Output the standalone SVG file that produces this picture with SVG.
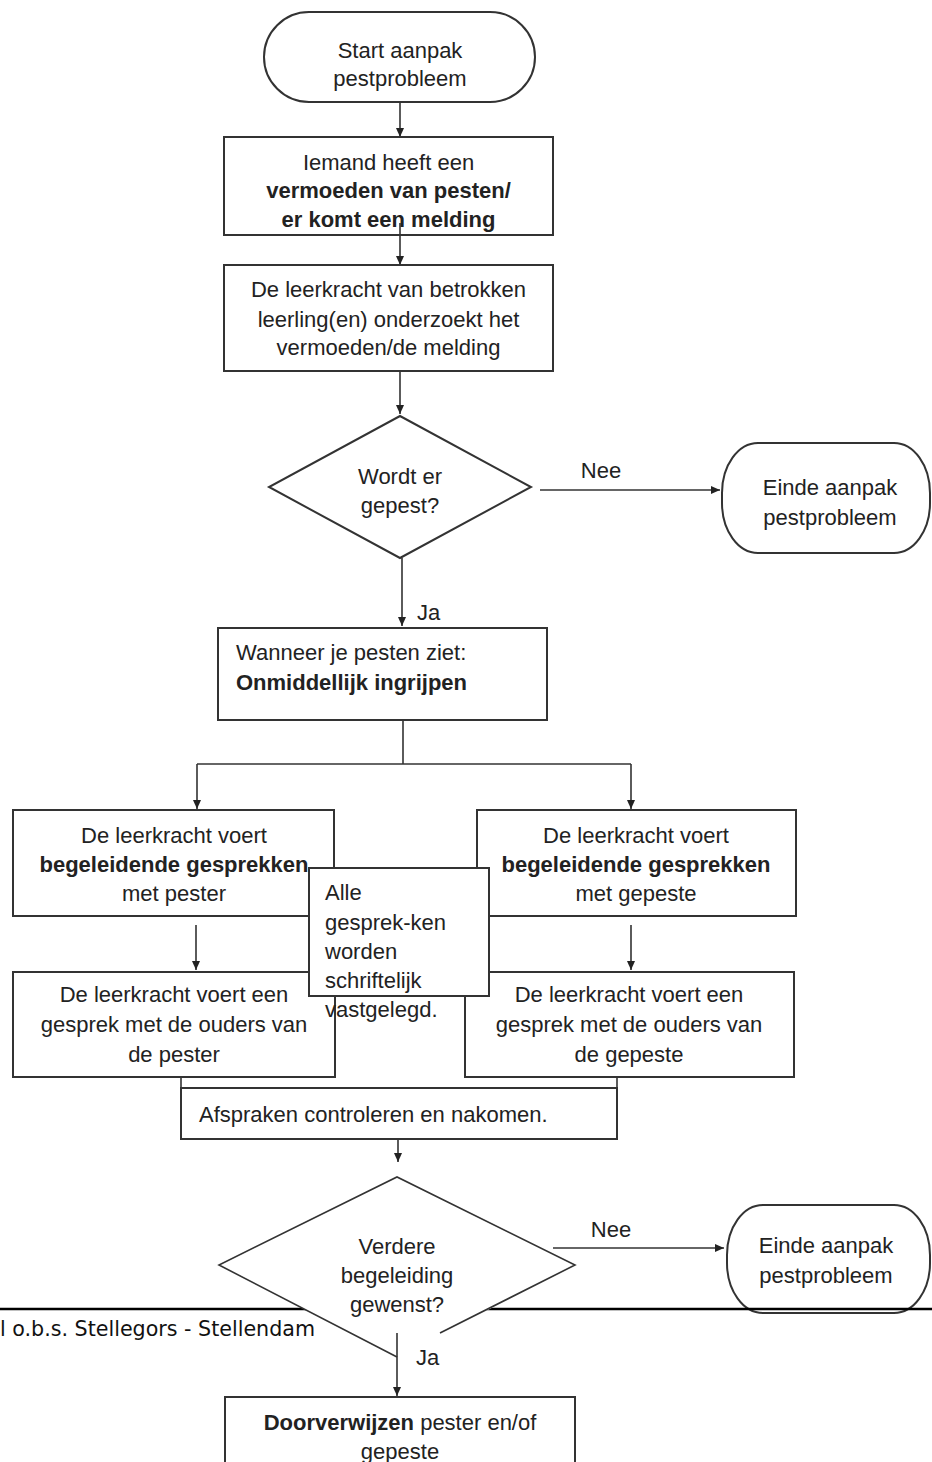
<svg xmlns="http://www.w3.org/2000/svg" width="932" height="1462" viewBox="0 0 932 1462">
<defs>
<marker id="ah" markerWidth="10" markerHeight="10" refX="9" refY="5" orient="auto" markerUnits="userSpaceOnUse">
<path d="M0,1 L9,5 L0,9 Z" fill="#222"/>
</marker>
<style>
.t{font-family:"Liberation Sans",Arial,sans-serif;font-size:22px;fill:#222}
.c{text-anchor:middle}
.b{font-weight:bold}
.box{fill:#fff;stroke:#333;stroke-width:2}
.ln{fill:none;stroke:#333;stroke-width:1.6}
.ar{fill:none;stroke:#333;stroke-width:1.6;marker-end:url(#ah)}
</style>
</defs>
<rect width="932" height="1462" fill="#fff"/>

<g id="start">
<rect class="box" x="264" y="12" width="271" height="90" rx="45" ry="45"/>
<text class="t c" x="400" y="58">Start aanpak</text>
<text class="t c" x="400" y="86">pestprobleem</text>
</g>

<g id="connectors">
<line class="ar" x1="400" y1="102" x2="400" y2="137"/>
<line class="ar" x1="400" y1="223" x2="400" y2="265"/>
<line class="ar" x1="400" y1="371" x2="400" y2="414"/>
<line class="ar" x1="540" y1="490" x2="720" y2="490"/>
<line class="ar" x1="402" y1="558" x2="402" y2="626"/>
<polyline class="ln" points="403,720 403,764"/>
<polyline class="ln" points="197,764 631,764"/>
<line class="ar" x1="197" y1="764" x2="197" y2="809"/>
<line class="ar" x1="631" y1="764" x2="631" y2="809"/>
<line class="ar" x1="196" y1="925" x2="196" y2="970"/>
<line class="ar" x1="631" y1="925" x2="631" y2="970"/>
<line class="ln" x1="181" y1="1077" x2="181" y2="1088" stroke-width="2"/>
<line class="ln" x1="617" y1="1077" x2="617" y2="1088" stroke-width="2"/>
<line class="ar" x1="398" y1="1139" x2="398" y2="1162"/>
<line class="ar" x1="553" y1="1248" x2="724" y2="1248"/>
<line class="ar" x1="397" y1="1333" x2="397" y2="1396"/>
</g>

<g id="box-melding">
<rect class="box" x="224" y="137" width="329" height="98" fill-opacity="0"/>
<text class="t c" x="388.5" y="170">Iemand heeft een</text>
<text class="t c b" x="388.5" y="198">vermoeden van pesten/</text>
<text class="t c b" x="388.5" y="227">er komt een melding</text>
</g>

<g id="box-onderzoek">
<rect class="box" x="224" y="265" width="329" height="106"/>
<text class="t c" x="388.5" y="297">De leerkracht van betrokken</text>
<text class="t c" x="388.5" y="327">leerling(en) onderzoekt het</text>
<text class="t c" x="388.5" y="355">vermoeden/de melding</text>
</g>

<g id="dec-gepest">
<polygon class="box" points="400,416 531,487 400,558 269,487"/>
<text class="t c" x="400" y="484">Wordt er</text>
<text class="t c" x="400" y="513">gepest?</text>
</g>
<text class="t c" x="601" y="478">Nee</text>

<g id="einde1">
<rect class="box" x="722" y="443" width="208" height="110" rx="36" ry="50"/>
<text class="t c" x="830" y="495">Einde aanpak</text>
<text class="t c" x="830" y="525">pestprobleem</text>
</g>
<text class="t" x="417" y="620">Ja</text>

<g id="box-ingrijpen">
<rect class="box" x="218" y="628" width="329" height="92"/>
<text class="t" x="236" y="660">Wanneer je pesten ziet:</text>
<text class="t b" x="236" y="690">Onmiddellijk ingrijpen</text>
</g>

<g id="box-pester">
<rect class="box" x="13" y="810" width="321" height="106"/>
<text class="t c" x="174" y="843">De leerkracht voert</text>
<text class="t c b" x="174" y="872">begeleidende gesprekken</text>
<text class="t c" x="174" y="901">met pester</text>
</g>

<g id="box-gepeste">
<rect class="box" x="477" y="810" width="319" height="106"/>
<text class="t c" x="636" y="843">De leerkracht voert</text>
<text class="t c b" x="636" y="872">begeleidende gesprekken</text>
<text class="t c" x="636" y="901">met gepeste</text>
</g>

<g id="box-ouders-pester">
<rect class="box" x="13" y="972" width="322" height="105"/>
<text class="t c" x="174" y="1002">De leerkracht voert een</text>
<text class="t c" x="174" y="1032">gesprek met de ouders van</text>
<text class="t c" x="174" y="1062">de pester</text>
</g>

<g id="box-ouders-gepeste">
<rect class="box" x="465" y="972" width="329" height="105"/>
<text class="t c" x="629" y="1002">De leerkracht voert een</text>
<text class="t c" x="629" y="1032">gesprek met de ouders van</text>
<text class="t c" x="629" y="1062">de gepeste</text>
</g>

<g id="box-alle">
<rect class="box" x="309" y="868" width="180" height="128"/>
<text class="t" x="325" y="900">Alle</text>
<text class="t" x="325" y="930">gesprek-ken</text>
<text class="t" x="325" y="959">worden</text>
<text class="t" x="325" y="988">schriftelijk</text>
<text class="t" x="325" y="1017">vastgelegd.</text>
</g>

<g id="box-afspraken">
<rect class="box" x="181" y="1088" width="436" height="51"/>
<text class="t" x="199" y="1122">Afspraken controleren en nakomen.</text>
</g>

<g id="einde2">
<rect class="box" x="727" y="1205" width="203" height="108" rx="36" ry="50"/>
<text class="t c" x="826" y="1253">Einde aanpak</text>
<text class="t c" x="826" y="1283">pestprobleem</text>
</g>
<text class="t c" x="611" y="1237">Nee</text>

<line x1="0" y1="1309" x2="932" y2="1309" stroke="#000" stroke-width="2.5"/>
<text x="0" y="1336" font-family="'DejaVu Sans Condensed','DejaVu Sans',sans-serif" font-size="21" fill="#111" textLength="315" lengthAdjust="spacingAndGlyphs">l o.b.s. Stellegors - Stellendam</text>

<g id="dec-begeleiding">
<polygon points="397,1177 575,1265 397,1357 219,1265" fill="#fff" stroke="none"/>
<path class="ln" d="M440,1333 L575,1265 L397,1177 L219,1265 L397,1357" stroke-width="2"/>
<text class="t c" x="397" y="1254">Verdere</text>
<text class="t c" x="397" y="1283">begeleiding</text>
<text class="t c" x="397" y="1312">gewenst?</text>
</g>
<line class="ln" x1="397" y1="1333" x2="397" y2="1357"/>
<text class="t" x="416" y="1365">Ja</text>

<g id="box-doorverwijzen">
<rect class="box" x="225" y="1397" width="350" height="80"/>
<text class="t c" x="400" y="1430"><tspan class="b">Doorverwijzen</tspan> pester en/of</text>
<text class="t c" x="400" y="1459">gepeste</text>
</g>
</svg>
